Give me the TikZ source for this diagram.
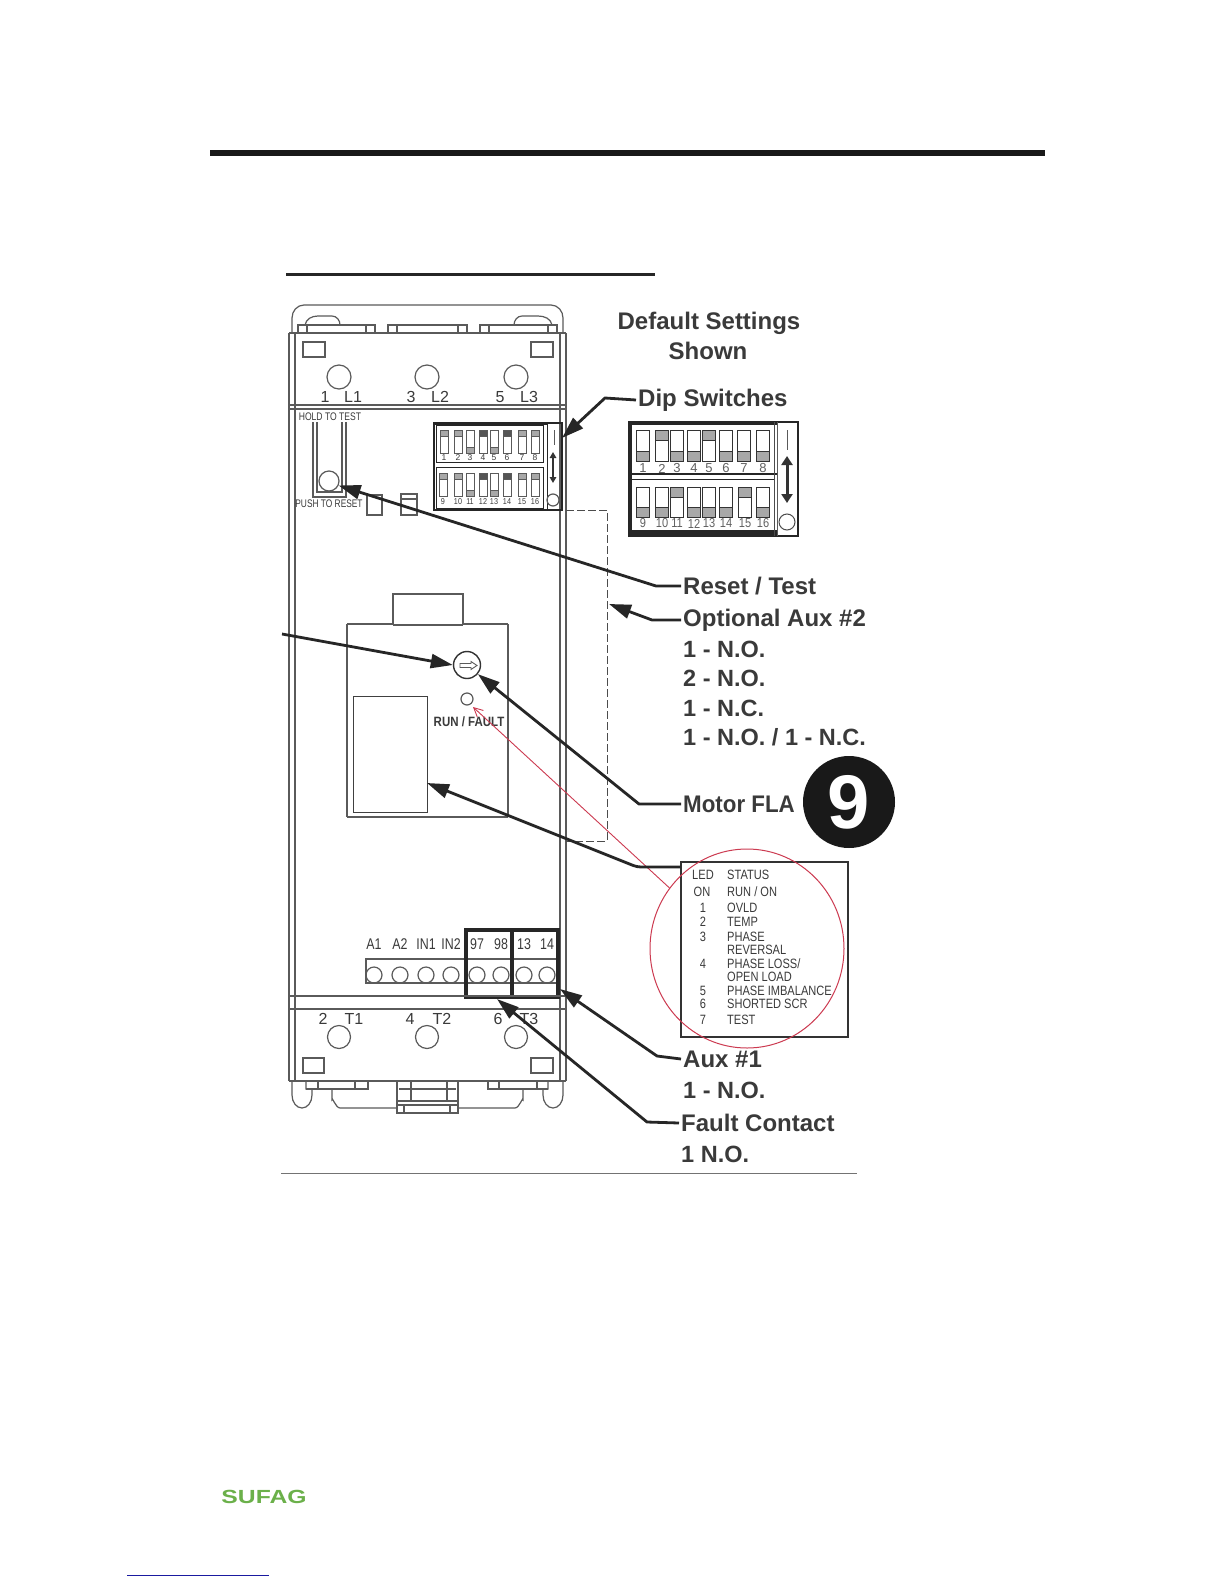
\documentclass[tikz,border=0pt]{standalone}
\usepackage{fontspec}
\usepackage{graphicx}
\setmainfont{Liberation Sans}
\usetikzlibrary{arrows.meta,shapes.geometric}
\definecolor{ink}{HTML}{3A3A3A}
\definecolor{devline}{HTML}{5A5A5A}
\definecolor{knobgrey}{HTML}{A8A8A8}
\definecolor{knobdark}{HTML}{555555}
\definecolor{redmark}{HTML}{CC3A50}
\definecolor{sufag}{HTML}{6BB04A}
\definecolor{linkblue}{HTML}{1A1AA0}
\newcommand{\fsz}[1]{\fontsize{#1}{#1}\selectfont}
\newcommand{\nar}[2]{\scalebox{#1}[1]{#2}}
\tikzset{
  x=1pt,y=-1pt,
  dev/.style={draw=devline,line width=1.2pt},
  devb/.style={draw=devline,line width=1.9pt},
  call/.style={font=\fsz{24}\bfseries,text=ink,inner sep=2pt,anchor=west},
  opt/.style={font=\fsz{23.5}\bfseries,text=ink,inner sep=0pt,anchor=west},
  leader/.style={draw=black!85,line width=2.8pt,-{Triangle[length=22pt,width=14pt]}},
  term/.style={font=\fsz{16},text=ink,inner sep=0pt},
  ltab/.style={font=\fsz{13.5},text=ink,inner sep=0pt},
  ltabw/.style={ltab,anchor=west},
  dipnum/.style={font=\fsz{8.5},text=ink,inner sep=0pt},
  dipnumL/.style={font=\fsz{13},text=ink!80,inner sep=0pt},
}
\begin{document}
\begin{tikzpicture}
\useasboundingbox[fill=white] (0,0) rectangle (1224,1584);
% page rules
\fill[black!90] (210,150) rectangle (1045,156);
\fill[black!85] (286,273) rectangle (655,275.5);
\fill[black!55] (281,1172.5) rectangle (857,1174);
\fill[linkblue] (127,1574.5) rectangle (269,1576);
\node[inner sep=0pt,text=sufag,font=\fsz{19}\bfseries] (logo) at (264,1497) {\scalebox{1.3}[1]{SUFAG}};
% device body
\draw[devb] (289,333) -- (289,1081);
\draw[dev] (295,333) -- (295,1081);
\draw[dev] (560,333) -- (560,1081);
\draw[devb] (566,333) -- (566,1081);
\draw[dev] (289,333) -- (566,333);
\draw[dev] (292,333) -- (292,318) to[out=90,in=180] (304,305) -- (551,305) to[out=0,in=90] (563,318) -- (563,333);
\draw[dev] (305,325) to[out=80,in=180] (318,316) -- (332,316) to[out=0,in=90] (340,325);
\draw[dev] (514,325) to[out=90,in=180] (522,316) -- (538,316) to[out=0,in=100] (552,325);
\foreach \a/\b in {298/375,388/467,480/557}{
  \draw[dev] (\a,333) -- (\a,325) -- (\b,325) -- (\b,333);
  \draw[dev] (\a+9,325) -- (\a+9,333) (\b-9,325) -- (\b-9,333);
}
\draw[dev] (303,342) rectangle (325,357);
\draw[dev] (531,342) rectangle (553,357);
\foreach \n/\x in {a/339,b/427,c/516}{
  \node[dev,circle,minimum size=24pt,inner sep=0pt] (top\n) at (\x,377) {};
}
\foreach \n/\x/\t in {p/325/1,q/353/L1,r/411/3,s/440/L2,t/500/5,u/529/L3}{
  \node[term] (topl\n) at (\x,397) {\t};
}
\draw[devb] (289,405) -- (566,405);
\draw[dev] (289,409) -- (566,409);
% reset / test
\node[inner sep=0pt,text=ink,font=\fsz{11}] (hold) at (330,417) {\nar{0.78}{HOLD TO TEST}};
\node[inner sep=0pt,text=ink,font=\fsz{11}] (push) at (329,504) {\nar{0.76}{PUSH TO RESET}};
\draw[dev] (313,422) -- (313,497) -- (346,497) -- (346,422);
\draw[dev] (317,422) -- (317,492) -- (342,492) -- (342,422);
\node[dev,circle,minimum size=20pt,inner sep=0pt,fill=white] (resetbtn) at (329,481) {};
\draw[dev] (367,495) rectangle (382,515);
\draw[dev] (401,494) rectangle (417,515);
\draw[dev] (401,499) -- (417,499);
% small dip block
\draw[draw=black!85,line width=1.3pt] (434,423) rectangle (562,510);
\draw[draw=black!85,line width=2pt] (434,424) -- (547,424);
\draw[draw=black!85,line width=1pt] (436,425) rectangle (543,462);
\draw[draw=black!85,line width=1pt] (436,467) rectangle (543,508);
\draw[draw=black!85,line width=1pt] (547,423) -- (547,510);
\foreach \x/\ky/\c/\n in {444/430/knobgrey/1,458/430/knobgrey/2,470/447/knobgrey/3,483/430/knobdark/4,494/447/knobgrey/5,507/430/knobdark/6,522/430/knobgrey/7,535/430/knobgrey/8}{
  \draw[devline,line width=.9pt] (\x-4,430) rectangle (\x+4,453);
  \fill[\c] (\x-4,\ky) rectangle (\x+4,\ky+6);
  \draw[devline,line width=.9pt] (\x-4,\ky) rectangle (\x+4,\ky+6);
  \node[dipnum] (sdip\n) at (\x,458) {\n};
}
\foreach \x/\ky/\c/\n in {443/473/knobgrey/9,458/473/knobgrey/10,470/490/knobgrey/11,483/473/knobdark/12,494/490/knobgrey/13,507/473/knobdark/14,522/473/knobgrey/15,535/473/knobgrey/16}{
  \draw[devline,line width=.9pt] (\x-4,473) rectangle (\x+4,496);
  \fill[\c] (\x-4,\ky) rectangle (\x+4,\ky+6);
  \draw[devline,line width=.9pt] (\x-4,\ky) rectangle (\x+4,\ky+6);
  \node[dipnum] (sdip\n) at (\x,501.5) {\nar{0.85}{\n}};
}
\coordinate (sbarA) at (554,430); \coordinate (sbarB) at (554,445);
\draw[devline,line width=.8pt] (sbarA) -- (sbarB);
\coordinate (sarrA) at (553,452); \coordinate (sarrB) at (553,483);
\draw[draw=black!80,line width=2pt,{Triangle[length=6pt,width=6.5pt]}-{Triangle[length=6pt,width=6.5pt]}] (sarrA) -- (sarrB);
\node[dev,circle,minimum size=12pt,inner sep=0pt] (scirc) at (553,500) {};
% large dip block
\draw[draw=black!85,line width=1.4pt] (629,422) rectangle (798,536);
\fill[black!85] (629,422) rectangle (777,425);
\fill[black!85] (629,473) rectangle (777,475);
\fill[black!85] (629,530) rectangle (777,536);
\fill[black!85] (629,422) rectangle (632,536);
\draw[draw=black!85,line width=1pt] (632,479) -- (774,479);
\draw[draw=black!70,line width=1pt] (774,422) -- (774,536);
\draw[devline,line width=.8pt] (777,422) -- (777,536);
\foreach \x/\ky/\n in {643/451/1,662/430/2,677/451/3,694/451/4,709/430/5,726/451/6,744/451/7,763/451/8}{
  \draw[black!80,line width=.9pt] (\x-6.5,430) rectangle (\x+6.5,461);
  \fill[knobgrey] (\x-6.5,\ky) rectangle (\x+6.5,\ky+10);
  \draw[black!80,line width=.9pt] (\x-6.5,\ky) rectangle (\x+6.5,\ky+10);
  \node[dipnumL] (ldip\n) at (\x,468.5) {\n};
}
\foreach \x/\ky/\n in {643/507/9,662/507/10,677/487/11,694/507/12,709/507/13,726/507/14,745/487/15,763/507/16}{
  \draw[black!80,line width=.9pt] (\x-6.5,487) rectangle (\x+6.5,517);
  \fill[knobgrey] (\x-6.5,\ky) rectangle (\x+6.5,\ky+10);
  \draw[black!80,line width=.9pt] (\x-6.5,\ky) rectangle (\x+6.5,\ky+10);
  \node[dipnumL] (ldip\n) at (\x,523.5) {\nar{0.85}{\n}};
}
\coordinate (lbarA) at (787,430); \coordinate (lbarB) at (787,450);
\draw[devline,line width=.8pt] (lbarA) -- (lbarB);
\coordinate (larrA) at (787,456); \coordinate (larrB) at (787,503);
\draw[draw=black!80,line width=3pt,{Triangle[length=9pt,width=11pt]}-{Triangle[length=9pt,width=11pt]}] (larrA) -- (larrB);
\node[draw=black!70,line width=1pt,circle,minimum size=16pt,inner sep=0pt] (lcirc) at (787,522) {};
% dashed option outline
\coordinate (dashA) at (566,510); \coordinate (dashB) at (607,510);
\coordinate (dashC) at (607,841); \coordinate (dashD) at (566,841);
\draw[black!70,line width=1pt,dash pattern=on 8pt off 3pt] (dashA) -- (dashB) -- (dashC) -- (dashD);
% centre module
\draw[devb] (393,625) -- (393,594) -- (463,594) -- (463,625);
\draw[dev] (347,624) -- (393,624) (463,624) -- (508,624);
\draw[dev] (393,625) -- (463,625);
\draw[dev] (347,624) -- (347,817) (508,624) -- (508,817);
\draw[devb] (347,817) -- (508,817);
\node[draw=black!75,line width=1pt,rectangle,minimum width=74pt,minimum height=116pt,inner sep=0pt] (display) at (390,754) {};
\node[draw=black!80,line width=1.4pt,circle,minimum size=27pt,inner sep=0pt] (dial) at (467,665) {};
\draw[devline,line width=.9pt] (460,663.5) -- (471,663.5) -- (471,661.5) -- (477,665.5) -- (471,669.5) -- (471,667.5) -- (460,667.5) -- cycle;
\node[dev,circle,minimum size=12pt,inner sep=0pt] (led) at (467,699) {};
\node[inner sep=0pt,text=ink,font=\fsz{13.5}\bfseries] (runfault) at (469,722) {\nar{0.85}{RUN / FAULT}};
% terminals
\draw[dev] (366,959) rectangle (557,983);
\foreach \n/\x/\t in {1/374/A1,2/400/A2,3/426/IN1,4/451/IN2,5/477/97,6/501/98,7/524/13,8/547/14}{
  \node[dev,circle,minimum size=16pt,inner sep=0pt] (tc\n) at (\x,975) {};
  \node[term,font=\fsz{15.5}] (tl\n) at (\x,944) {\nar{0.8}{\t}};
}
\draw[draw=black!85,line width=3.6pt] (466,930) rectangle (512,997);
\draw[draw=black!85,line width=3.6pt] (512,930) rectangle (558,997);
% bottom band
\draw[dev] (289,996) -- (566,996);
\draw[devb] (289,1009) -- (566,1009);
\foreach \n/\x/\t in {p/323/2,q/354/T1,r/410/4,s/442/T2,t/498/6,u/529/T3}{
  \node[term] (botl\n) at (\x,1019) {\t};
}
\foreach \n/\x in {a/339,b/427,c/516}{
  \node[dev,circle,minimum size=23pt,inner sep=0pt] (bot\n) at (\x,1037) {};
}
\draw[dev] (303,1058) rectangle (324,1073);
\draw[dev] (531,1058) rectangle (553,1073);
\draw[devb] (289,1081) -- (566,1081);
% feet
\draw[dev] (292,1081) -- (292,1095) arc[start angle=180,end angle=0,x radius=10pt,y radius=-13pt] -- (312,1089) -- (306,1089) -- (306,1081);
\draw[dev] (563,1081) -- (563,1095) arc[start angle=0,end angle=180,x radius=10pt,y radius=-13pt] -- (543,1089) -- (548,1089) -- (548,1081);
\draw[dev] (306,1089) -- (368,1089) -- (368,1081) (318,1081) -- (318,1089) (355,1081) -- (355,1089);
\draw[dev] (488,1081) -- (488,1089) -- (548,1089) (499,1081) -- (499,1089) (537,1081) -- (537,1089);
\draw[dev] (332,1089) -- (332,1100) to[out=90,in=180] (340,1108) -- (397,1108);
\draw[dev] (523,1089) -- (523,1100) to[out=90,in=0] (515,1108) -- (458,1108);
\draw[devb] (397,1081) -- (397,1113) -- (458,1113) -- (458,1081);
\draw[dev] (399,1089) -- (456,1089) (411,1081) -- (411,1101) (447,1081) -- (447,1101) (397,1101) -- (458,1101) (397,1105) -- (458,1105) (404,1105) -- (404,1113) (450,1105) -- (450,1113);
% headings
\node[inner sep=0pt,text=ink,font=\fsz{24}\bfseries] (defA) at (709,323) {Default Settings};
\node[inner sep=0pt,text=ink,font=\fsz{24}\bfseries] (defB) at (708,351) {Shown};
% LED legend
\node[draw=black!80,line width=1.2pt,rectangle,minimum width=167pt,minimum height=175pt,inner sep=0pt] (legendbox) at (764.5,949.5) {};
\foreach \n/\x/\y/\t in {a/703/875/LED,b/702/892/ON,c/703/908/1,d/703/922/2,e/703/937/3,f/703/964/4,g/703/991/5,h/703/1004/6,i/703/1020/7}{
  \node[ltab] (lc\n) at (\x,\y) {\nar{0.82}{\t}};
}
\foreach \n/\y/\t in {a/875/{STATUS},b/892/{RUN / ON},c/908/{OVLD},d/922/{TEMP},e/937/{PHASE},f/950/{REVERSAL},g/964/{PHASE LOSS/},h/977/{OPEN LOAD},i/991/{PHASE IMBALANCE},j/1004/{SHORTED SCR},k/1020/{TEST}}{
  \node[ltabw] (ls\n) at (727,\y) {\nar{0.82}{\t}};
}
% red mark-up
\node[draw=redmark,line width=1pt,ellipse,minimum width=194pt,minimum height=199pt,inner sep=0pt] (redring) at (747,948.5) {};
\coordinate (redend) at (473,707);
\draw[redmark,line width=.9pt,-{Straight Barb[length=9pt,width=9pt]}] (redring.142) -- (redend);
% callouts
\node[call] (lDip) at (636,400) {Dip Switches};
\coordinate (tipDip) at (562,438); \coordinate (elbDip) at (605,398);
\draw[leader] (lDip.west) -- (elbDip) -- (tipDip);
\node[call] (lReset) at (681,586) {Reset / Test};
\coordinate (elbReset) at (656,586);
\draw[leader] (lReset.west) -- (elbReset) -- (resetbtn.-25);
\node[call] (lAux2) at (681,620) {Optional Aux \#2};
\coordinate (elbAux2) at (652,620); \coordinate (tipAux2) at (609,604);
\draw[leader] (lAux2.west) -- (elbAux2) -- (tipAux2);
\node[opt] (o1) at (683,649) {1 - N.O.};
\node[opt] (o2) at (683,678) {2 - N.O.};
\node[opt] (o3) at (683,708) {1 - N.C.};
\node[opt] (o4) at (683,737) {1 - N.O. / 1 - N.C.};
\node[call] (lFLA) at (681,804) {\nar{0.93}{Motor FLA}};
\coordinate (elbFLA) at (639,804);
\draw[leader] (lFLA.west) -- (elbFLA) -- (dial.-40);
\coordinate (leftEnd) at (282,634);
\draw[leader] (leftEnd) -- (dial.west);
\coordinate (elbDisp) at (637,867); \coordinate (tipDisp) at (427,783);
\draw[leader,rounded corners=4pt] (legendbox.west |- elbDisp) -- (elbDisp) -- (tipDisp);
\node[circle,fill=black!90,minimum size=92pt,inner sep=0pt,text=white,font=\fsz{76}\bfseries] (nine) at (849,802) {9};
\node[call] (lAux1) at (681,1059) {Aux \#1};
\coordinate (elbAux1) at (657,1056); \coordinate (tipAux1) at (560,989);
\draw[leader] (lAux1.west) -- (elbAux1) -- (tipAux1);
\node[opt] (a1) at (683,1090) {1 - N.O.};
\node[call] (lFault) at (679,1123) {Fault Contact};
\coordinate (elbFault) at (647,1122); \coordinate (tipFault) at (497,999);
\draw[leader] (lFault.west) -- (elbFault) -- (tipFault);
\node[opt] (f1) at (681,1154) {1 N.O.};
\end{tikzpicture}
\end{document}
